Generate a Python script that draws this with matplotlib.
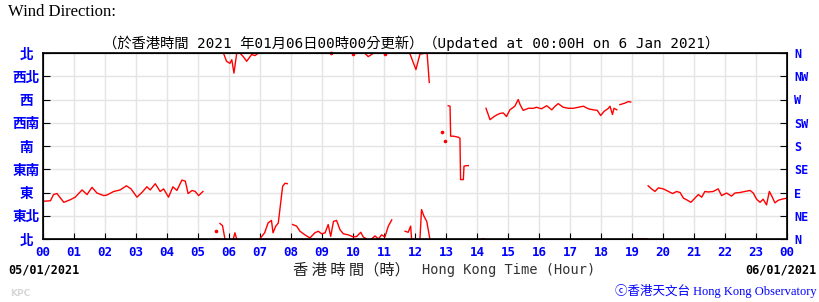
import numpy as np
import matplotlib
matplotlib.use("Agg")
import matplotlib.pyplot as plt

nan = np.nan

# wind direction (degrees) by Hong Kong hour, NaN = break in the trace
hour = [0.00, 0.24, 0.34, 0.45, 0.67, 0.88, 1.04, 1.15, 1.26, 1.42, 1.58, 1.74, 1.96, 2.06, 2.28,
        2.49, 2.69, 2.84, 3.03, 3.19, 3.35, 3.46, 3.62, 3.78, 3.89, 4.05, 4.19, 4.32, 4.48, 4.59,
        4.68, 4.81, 4.91, 5.02, 5.16, nan,
        5.71, 5.79, 5.87, nan,
        5.82, 5.92, 6.03, 6.09, 6.16, 6.25, nan,
        6.14, 6.19, 6.25, nan,
        6.35, 6.46, 6.57, 6.73, 6.84, 6.95, nan,
        6.99, 7.15, 7.26, 7.37, 7.42, 7.51, 7.59, 7.73, 7.81, 7.88, nan,
        8.05, 8.18, 8.29, 8.45, 8.61, 8.77, 8.88, 8.99, 9.10, 9.20, 9.28, 9.37, 9.47, 9.58, 9.69,
        9.85, 10.01, 10.12, 10.25, 10.33, 10.44, nan,
        10.60, 10.71, 10.82, 10.92, 11.03, 11.14, 11.25, nan,
        10.39, 10.49, 10.65, nan,
        11.68, 11.78, 11.86, 11.89, nan,
        11.84, 12.03, 12.16, 12.39, 12.46, nan,
        12.16, 12.21, 12.29, 12.38, 12.48, nan,
        13.07, 13.13, 13.15, 13.24, 13.40, 13.45, 13.47, 13.56, 13.58, 13.67, 13.72, nan,
        14.29, 14.42, 14.53, 14.63, 14.74, 14.85, 14.95, 15.06, 15.22, 15.33, 15.39, 15.49, 15.66,
        15.82, 15.92, 16.08, 16.25, 16.41, 16.52, 16.62, 16.78, 16.95, 17.11, 17.27, 17.43, 17.59,
        17.75, 17.88, 17.99, 18.10, 18.24, 18.29, 18.37, 18.42, 18.51, nan,
        18.61, 18.77, 18.88, 18.96, nan,
        19.52, 19.63, 19.74, 19.85, 20.01, 20.18, 20.31, 20.44, 20.55, 20.66, 20.76, 20.90, 21.03,
        21.14, 21.25, 21.35, 21.46, 21.62, 21.78, 21.89, 22.05, 22.21, 22.32, 22.48, 22.65, 22.81,
        22.91, 23.02, 23.13, 23.23, 23.34, 23.43, 23.51, 23.61, 23.72, 23.83, 23.99]
direction = [73, 74, 86, 88, 71, 76, 81, 88, 95, 86, 100, 89, 84, 85, 92,
             95, 103, 97, 81, 90, 101, 95, 107, 92, 97, 81, 101, 94, 114, 112,
             88, 94, 92, 84, 92, nan,
             30, 26, 0, nan,
             360, 344, 340, 347, 321, 360, nan,
             0, 12, 0, nan,
             360, 353, 344, 357, 355, 360, nan,
             0, 12, 31, 36, 12, 25, 31, 102, 108, 107, nan,
             28, 25, 15, 8, 2, 12, 15, 10, 12, 28, 5, 34, 36, 18, 10,
             8, 4, 5, 13, 4, 0, nan,
             0, 6, 0, 8, 4, 25, 37, nan,
             359, 353, 359, nan,
             15, 13, 25, 0, nan,
             358, 328, 358, 360, 303, nan,
             0, 57, 44, 34, 0, nan,
             258, 257, 199, 199, 197, 195, 115, 115, 141, 142, 142, nan,
             253, 231, 236, 240, 243, 244, 237, 250, 257, 270, 260, 249, 253,
             253, 255, 252, 258, 250, 257, 262, 255, 253, 253, 255, 257, 252,
             250, 249, 239, 247, 253, 257, 241, 253, 250, nan,
             260, 263, 266, 265, nan,
             103, 97, 92, 99, 97, 92, 88, 92, 90, 79, 76, 71, 79,
             86, 81, 92, 91, 92, 97, 84, 89, 83, 89, 90, 92, 94,
             89, 77, 71, 77, 66, 92, 83, 70, 75, 77, 79]

# isolated readings
dot_hour = [5.58, 9.28, 9.99, 11.03, 12.86, 12.97]
dot_dir = [15, 360, 359, 358, 208, 190]

# short runs lying on the 0 line
calm_start = [5.45, 14.12, 19.03]
calm_end = [5.70, 14.22, 19.48]

cn_labels = ["北", "東北", "東", "東南", "南", "西南", "西", "西北", "北"]
en_labels = ["N", "NE", "E", "SE", "S", "SW", "W", "NW", "N"]
hour_labels = ["%02d" % (h % 24) for h in range(25)]

mono_cjk = ["DejaVu Sans Mono", "Noto Sans CJK TC"]
cjk = ["Noto Sans CJK TC", "DejaVu Sans"]

fig = plt.figure(figsize=(8.2, 3.02), dpi=100)
ax = fig.add_axes([43 / 820, 63 / 302, 744 / 820, 186 / 302])

ax.plot(hour, direction, color="red", lw=1.0)
ax.plot(dot_hour, dot_dir, ls="none", marker="o", ms=1.6, color="red", clip_on=False)
ax.hlines([0] * len(calm_start), calm_start, calm_end, color="red", lw=2)

ax.set_xlim(0, 24)
ax.set_ylim(0, 360)
ax.set_xticks(range(25))
ax.set_xticklabels(hour_labels, color="blue", fontweight="bold",
                   family="DejaVu Sans Mono", fontsize=9)
ax.set_yticks(np.arange(0, 361, 45))
ax.set_yticklabels(cn_labels, color="blue", fontweight="bold", family=cjk, fontsize=9.8)
for lbl in ax.get_yticklabels():
    lbl.set_ha("center")
ax.tick_params(axis="y", direction="in", length=5, pad=12, right=True)
ax.tick_params(axis="x", direction="in", length=4, pad=5)
ax.grid(True, color="#e4e4e4", lw=1)
ax.set_axisbelow(True)
for sp in ax.spines.values():
    sp.set_linewidth(1.2)

ax2 = ax.twinx()
ax2.set_ylim(0, 360)
ax2.set_yticks(np.arange(0, 361, 45))
ax2.set_yticklabels(en_labels, color="blue", fontweight="bold",
                    family="DejaVu Sans Mono", fontsize=8.5)
ax2.tick_params(axis="y", direction="in", length=5, pad=5)

fig.text(8 / 820, 1 - 12 / 302, "Wind Direction:", family="Liberation Serif",
         fontsize=12, va="center", ha="left")
fig.text(411 / 820, 1 - 43 / 302,
         "（於香港時間 2021 年01月06日00時00分更新）（Updated at 00:00H on 6 Jan 2021）",
         family=mono_cjk, fontsize=10.3, va="center", ha="center")
fig.text(8 / 820, 1 - 270 / 302, "05/01/2021", family="DejaVu Sans Mono",
         fontweight="bold", fontsize=8.5, va="center", ha="left")
fig.text(817 / 820, 1 - 270 / 302, "06/01/2021", family="DejaVu Sans Mono",
         fontweight="bold", fontsize=8.5, va="center", ha="right")
fig.text(410 / 820, 1 - 270 / 302, "香 港 時 間（時）", family=cjk,
         fontsize=11, va="center", ha="right", color="#222222")
fig.text(422 / 820, 1 - 270 / 302, "Hong Kong Time (Hour)", family="DejaVu Sans Mono",
         fontsize=9.8, va="center", ha="left", color="#333333")
fig.text(10 / 820, 1 - 293 / 302, "KPC", family="DejaVu Sans", fontweight="bold",
         fontsize=6.5, va="center", ha="left", color="#d6d6d6")
fig.text(817 / 820, 1 - 291 / 302, "ⓒ香港天文台 Hong Kong Observatory",
         family=["Liberation Serif", "Noto Sans CJK TC"], fontsize=9,
         va="center", ha="right", color="blue")

fig.savefig("out.png", dpi=100)
